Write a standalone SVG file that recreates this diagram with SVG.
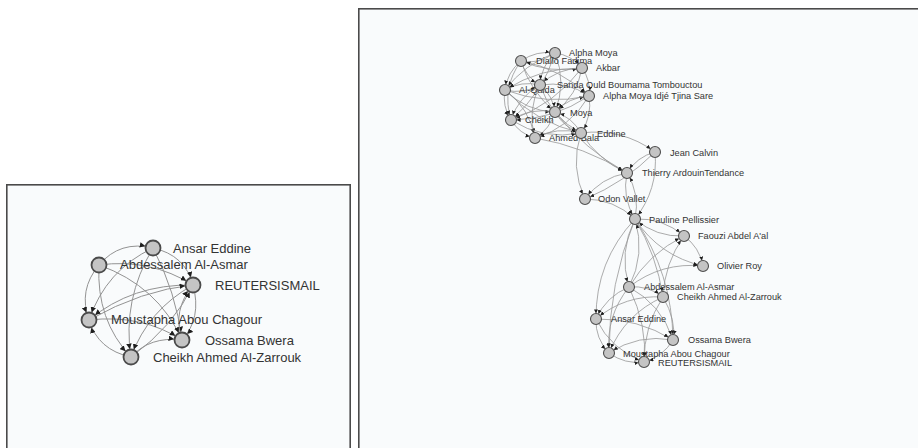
<svg xmlns="http://www.w3.org/2000/svg" width="918" height="448" viewBox="0 0 918 448">
  <style>
    .panel { fill: #f9fbfc; stroke: #4a4a4a; stroke-width: 1.6; }
    .eL { fill: none; stroke: #939393; stroke-width: 1; marker-end: url(#arrL); }
    .eR { fill: none; stroke: #979797; stroke-width: 0.8; marker-end: url(#arrR); }
    .nL { fill: #c4c4c4; stroke: #4a4a4a; stroke-width: 1.8; }
    .nR { fill: #c4c4c4; stroke: #4f4f4f; stroke-width: 1.1; }
    .tL { font-family: "Liberation Sans", Arial, sans-serif; font-size: 13px; fill: #333; }
    .tR { font-family: "Liberation Sans", Arial, sans-serif; font-size: 9.2px; fill: #333; }
  </style>
  <defs>
    <!-- arrow tips are pushed back so they stop on the node rim -->
    <marker id="arrL" viewBox="0 0 10 10" markerUnits="userSpaceOnUse" markerWidth="5.5" markerHeight="5.5" refX="24.5" refY="5" orient="auto">
      <path d="M0,0 L10,5 L0,10 z" fill="#1e1e1e"/>
    </marker>
    <marker id="arrR" viewBox="0 0 10 10" markerUnits="userSpaceOnUse" markerWidth="4" markerHeight="4" refX="24" refY="5" orient="auto">
      <path d="M0,0 L10,5 L0,10 z" fill="#1e1e1e"/>
    </marker>
  </defs>

  <rect width="918" height="448" fill="#ffffff"/>
  <rect class="panel" x="6.8" y="184.8" width="343.4" height="280"/>
  <rect class="panel" x="358.8" y="8.8" width="580" height="460"/>

  <!-- small graph: edges -->
  <g id="edges-left">
    <path class="eL" d="M99,265 Q120,240 153,248"/>
    <path class="eL" d="M153,248 Q185,255 193,285"/>
    <path class="eL" d="M193,285 Q202,318 182,340"/>
    <path class="eL" d="M131,357 Q150,336 182,340"/>
    <path class="eL" d="M131,357 Q98,350 89,320"/>
    <path class="eL" d="M99,265 Q78,290 89,320"/>
    <path class="eL" d="M99,265 Q150,258 193,285"/>
    <path class="eL" d="M99,265 Q158,286 182,340"/>
    <path class="eL" d="M99,265 Q96,320 131,357"/>
    <path class="eL" d="M153,248 Q106,270 89,320"/>
    <path class="eL" d="M153,248 Q122,300 131,357"/>
    <path class="eL" d="M153,248 Q176,292 182,340"/>
    <path class="eL" d="M193,285 Q132,284 89,320"/>
    <path class="eL" d="M193,285 Q148,310 131,357"/>
    <path class="eL" d="M89,320 Q142,314 182,340"/>
    <path class="eL" d="M89,320 Q142,290 193,285"/>
    <path class="eL" d="M131,357 Q174,326 193,285"/>
    <path class="eL" d="M182,340 Q172,310 193,285"/>
  </g>

  <!-- small graph: nodes -->
  <g id="L-ansar-eddine"><circle class="nL" cx="153" cy="248" r="7.5"/><text class="tL" x="173" y="253">Ansar Eddine</text></g>
  <g id="L-abdessalem"><circle class="nL" cx="99" cy="265" r="7.5"/><text class="tL" x="120" y="269">Abdessalem Al-Asmar</text></g>
  <g id="L-reutersismail"><circle class="nL" cx="193" cy="285" r="7.5"/><text class="tL" x="215" y="290">REUTERSISMAIL</text></g>
  <g id="L-moustapha"><circle class="nL" cx="89" cy="320" r="7.5"/><text class="tL" x="111" y="324">Moustapha Abou Chagour</text></g>
  <g id="L-ossama"><circle class="nL" cx="182" cy="340" r="7.5"/><text class="tL" x="205" y="345">Ossama Bwera</text></g>
  <g id="L-cheikh-ahmed"><circle class="nL" cx="131" cy="357" r="7.5"/><text class="tL" x="153" y="362">Cheikh Ahmed Al-Zarrouk</text></g>

  <!-- large graph: edges -->
  <g id="edges-right">
    <path class="eR" d="M521,61 Q536.4,50.2 555,53"/>
    <path class="eR" d="M521,61 Q507.2,72.3 505,90"/>
    <path class="eR" d="M505,90 Q502,106.2 511,120"/>
    <path class="eR" d="M521,61 Q501.3,88 511,120"/>
    <path class="eR" d="M511,120 Q519.4,133.8 535,138"/>
    <path class="eR" d="M535,138 Q557,126.3 581,133"/>
    <path class="eR" d="M555,53 Q571.5,55.1 582,68"/>
    <path class="eR" d="M582,68 Q591.1,80.6 589,96"/>
    <path class="eR" d="M589,96 Q592.4,116.1 581,133"/>
    <path class="eR" d="M521,61 Q525.7,76.8 540,85"/>
    <path class="eR" d="M521,61 Q530.4,91.6 555,112"/>
    <path class="eR" d="M521,61 Q560.3,68.3 589,96"/>
    <path class="eR" d="M521,61 Q550.5,73.7 582,68"/>
    <path class="eR" d="M555,53 Q541.1,66 540,85"/>
    <path class="eR" d="M555,53 Q524.5,64 505,90"/>
    <path class="eR" d="M555,53 Q543,93.1 511,120"/>
    <path class="eR" d="M555,53 Q566.8,82.5 555,112"/>
    <path class="eR" d="M582,68 Q557.6,68.1 540,85"/>
    <path class="eR" d="M582,68 Q577.3,95.4 555,112"/>
    <path class="eR" d="M582,68 Q540.2,67.5 505,90"/>
    <path class="eR" d="M582,68 Q554.3,104.7 511,120"/>
    <path class="eR" d="M505,90 Q523.5,94.5 540,85"/>
    <path class="eR" d="M505,90 Q525.6,111 555,112"/>
    <path class="eR" d="M505,90 Q546.1,105.6 589,96"/>
    <path class="eR" d="M505,90 Q529.6,108 535,138"/>
    <path class="eR" d="M505,90 Q536.6,122.9 581,133"/>
    <path class="eR" d="M540,85 Q552.9,95.5 555,112"/>
    <path class="eR" d="M540,85 Q518.5,96.7 511,120"/>
    <path class="eR" d="M540,85 Q550.9,117.2 581,133"/>
    <path class="eR" d="M540,85 Q526.9,110.5 535,138"/>
    <path class="eR" d="M540,85 Q566.7,80.7 589,96"/>
    <path class="eR" d="M589,96 Q568.8,97.2 555,112"/>
    <path class="eR" d="M589,96 Q553.6,119.7 511,120"/>
    <path class="eR" d="M589,96 Q570.4,127.8 535,138"/>
    <path class="eR" d="M555,112 Q531.4,107.2 511,120"/>
    <path class="eR" d="M555,112 Q563.8,127.7 581,133"/>
    <path class="eR" d="M555,112 Q550.2,129 535,138"/>
    <path class="eR" d="M511,120 Q543.4,140.5 581,133"/>
    <path class="eR" d="M581,133 Q572.2,117.3 555,112"/>
    <path class="eR" d="M540,85 Q521.5,80.5 505,90"/>
    <path class="eR" d="M555,53 Q537,65 521,61"/>

    <path class="eR" d="M581,133 Q621.8,127.7 655,152"/>
    <path class="eR" d="M581,133 Q598,159.9 627,173"/>
    <path class="eR" d="M535,138 Q584.5,146.3 627,173"/>
    <path class="eR" d="M581,133 Q569.8,166.8 585,199"/>
    <path class="eR" d="M555,112 Q584.9,149.7 627,173"/>
    <path class="eR" d="M655,152 Q636.8,156.9 627,173"/>
    <path class="eR" d="M655,152 Q624.7,182.5 585,199"/>
    <path class="eR" d="M655,152 Q658.4,189.5 635,219"/>
    <path class="eR" d="M627,173 Q600.8,177.6 585,199"/>
    <path class="eR" d="M627,173 Q621.8,197.6 635,219"/>
    <path class="eR" d="M635,219 Q640.2,194.4 627,173"/>
    <path class="eR" d="M585,199 Q614,199 635,219"/>

    <path class="eR" d="M635,219 Q662.9,217.7 684,236"/>
    <path class="eR" d="M684,236 Q656.1,237.3 635,219"/>
    <path class="eR" d="M635,219 Q659.6,256.1 703,266"/>
    <path class="eR" d="M684,236 Q699.5,247.2 703,266"/>
    <path class="eR" d="M635,219 Q618.4,251.8 629,287"/>
    <path class="eR" d="M629,287 Q645.6,254.2 635,219"/>
    <path class="eR" d="M629,287 Q648.9,253.3 684,236"/>
    <path class="eR" d="M629,287 Q661.8,261.7 703,266"/>
    <path class="eR" d="M663,297 Q664.4,263.4 684,236"/>
    <path class="eR" d="M635,219 Q595.5,261.2 596,319"/>
    <path class="eR" d="M635,219 Q608.6,283.4 609,353"/>
    <path class="eR" d="M635,219 Q672.2,273.8 673,340"/>
    <path class="eR" d="M635,219 Q656.8,255.2 663,297"/>
    <path class="eR" d="M629,287 Q648,285.2 663,297"/>
    <path class="eR" d="M629,287 Q606.1,296.4 596,319"/>
    <path class="eR" d="M629,287 Q661.6,304.7 673,340"/>
    <path class="eR" d="M629,287 Q605.8,316 609,353"/>
    <path class="eR" d="M629,287 Q647.8,326.8 644,362"/>
    <path class="eR" d="M663,297 Q625.1,294.6 596,319"/>
    <path class="eR" d="M663,297 Q676.6,320.5 673,340"/>
    <path class="eR" d="M663,297 Q624.8,314.2 609,353"/>
    <path class="eR" d="M663,297 Q643.8,326.7 644,362"/>
    <path class="eR" d="M596,319 Q637.7,318 673,340"/>
    <path class="eR" d="M596,319 Q595.2,338.4 609,353"/>
    <path class="eR" d="M596,319 Q611.4,350.1 644,362"/>
    <path class="eR" d="M673,340 Q638.4,333.7 609,353"/>
    <path class="eR" d="M673,340 Q662.9,356.8 644,362"/>
    <path class="eR" d="M609,353 Q624.7,364.5 644,362"/>
  </g>

  <!-- large graph: nodes -->
  <g id="R-alpha-moya"><circle class="nR" cx="555" cy="53" r="5.5"/><text class="tR" x="569" y="56">Alpha Moya</text></g>
  <g id="R-diallo-fadima"><circle class="nR" cx="521" cy="61" r="5.5"/><text class="tR" x="536" y="64">Diallo Fadima</text></g>
  <g id="R-akbar"><circle class="nR" cx="582" cy="68" r="5.5"/><text class="tR" x="596" y="71">Akbar</text></g>
  <g id="R-al-qaida"><circle class="nR" cx="505" cy="90" r="5.5"/><text class="tR" x="519" y="93">Al-Qaida</text></g>
  <g id="R-sanda"><circle class="nR" cx="540" cy="85" r="5.5"/><text class="tR" x="557" y="88">Sanda Ould Boumama Tombouctou</text></g>
  <g id="R-alpha-moya-idje"><circle class="nR" cx="589" cy="96" r="5.5"/><text class="tR" x="603" y="99">Alpha Moya Idjé Tjina Sare</text></g>
  <g id="R-moya"><circle class="nR" cx="555" cy="112" r="5.5"/><text class="tR" x="570" y="116">Moya</text></g>
  <g id="R-cheikh"><circle class="nR" cx="511" cy="120" r="5.5"/><text class="tR" x="525" y="123">Cheikh</text></g>
  <g id="R-ahmed-bala"><circle class="nR" cx="535" cy="138" r="5.5"/><text class="tR" x="549" y="141">Ahmed Bala</text></g>
  <g id="R-eddine"><circle class="nR" cx="581" cy="133" r="5.5"/><text class="tR" x="597" y="137">Eddine</text></g>
  <g id="R-jean-calvin"><circle class="nR" cx="655" cy="152" r="5.5"/><text class="tR" x="670" y="156">Jean Calvin</text></g>
  <g id="R-thierry"><circle class="nR" cx="627" cy="173" r="5.5"/><text class="tR" x="642" y="176">Thierry ArdouinTendance</text></g>
  <g id="R-odon-vallet"><circle class="nR" cx="585" cy="199" r="5.5"/><text class="tR" x="598" y="202">Odon Vallet</text></g>
  <g id="R-pauline"><circle class="nR" cx="635" cy="219" r="5.5"/><text class="tR" x="649" y="223">Pauline Pellissier</text></g>
  <g id="R-faouzi"><circle class="nR" cx="684" cy="236" r="5.5"/><text class="tR" x="698" y="239">Faouzi Abdel A'al</text></g>
  <g id="R-olivier-roy"><circle class="nR" cx="703" cy="266" r="5.5"/><text class="tR" x="717" y="269">Olivier Roy</text></g>
  <g id="R-abdessalem"><circle class="nR" cx="629" cy="287" r="5.5"/><text class="tR" x="644" y="290">Abdessalem Al-Asmar</text></g>
  <g id="R-cheikh-ahmed"><circle class="nR" cx="663" cy="297" r="5.5"/><text class="tR" x="677" y="300">Cheikh Ahmed Al-Zarrouk</text></g>
  <g id="R-ansar-eddine"><circle class="nR" cx="596" cy="319" r="5.5"/><text class="tR" x="611" y="322">Ansar Eddine</text></g>
  <g id="R-ossama"><circle class="nR" cx="673" cy="340" r="5.5"/><text class="tR" x="688" y="343">Ossama Bwera</text></g>
  <g id="R-moustapha"><circle class="nR" cx="609" cy="353" r="5.5"/><text class="tR" x="623" y="357">Moustapha Abou Chagour</text></g>
  <g id="R-reutersismail"><circle class="nR" cx="644" cy="362" r="5.5"/><text class="tR" x="658" y="366">REUTERSISMAIL</text></g>
</svg>
